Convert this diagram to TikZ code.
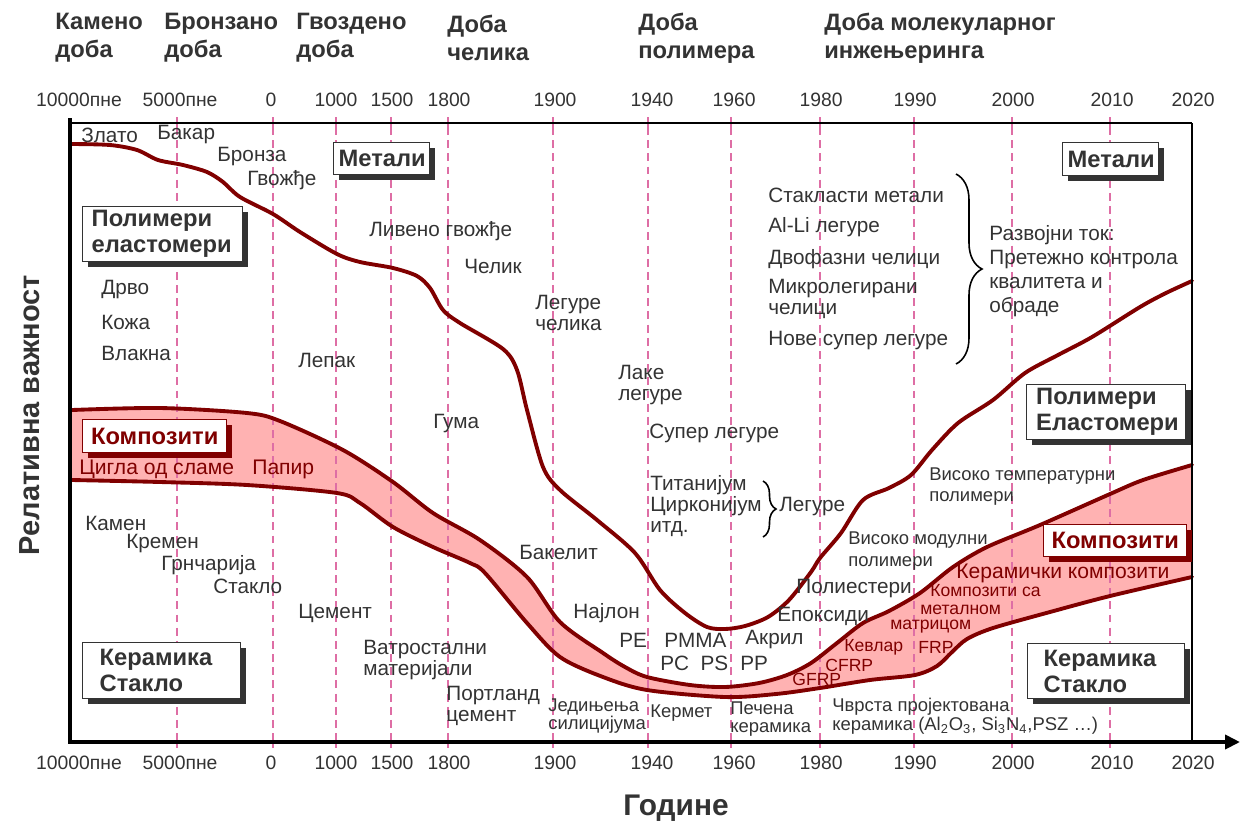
\documentclass[tikz,border=0pt]{standalone}
\usepackage{fontspec}
\setmainfont{Liberation Sans}
\usetikzlibrary{arrows.meta,shadows,decorations.pathreplacing}
\definecolor{mred}{RGB}{128,0,0}
\definecolor{mpink}{RGB}{255,178,178}
\definecolor{mgray}{RGB}{51,51,51}
\definecolor{mdash}{RGB}{222,110,165}

\begin{document}
\begin{tikzpicture}[x=0.02cm, y=-0.02cm,
  lbl/.style={anchor=west, inner sep=0pt, text=mgray, align=left, font=\fontsize{11.8}{12}\selectfont},
  lblsm/.style={lbl, font=\fontsize{10.5}{11}\selectfont},
  redlbl/.style={lbl, text=mred, font=\fontsize{12}{13}\selectfont},
  redsm/.style={lbl, text=mred, font=\fontsize{10}{11}\selectfont},
  era/.style={anchor=west, inner sep=0pt, text=mgray, align=left, font=\fontsize{13.5}{16}\selectfont\bfseries},
  year/.style={inner sep=0pt, text=mgray, font=\fontsize{11}{12}\selectfont},
  tag/.style={anchor=north west, line width=0.8pt, fill=white, inner ysep=0pt, font=\fontsize{13.5}{14.7}\selectfont\bfseries},
  graybox/.style={tag, draw=mgray, text=mgray, align=left, drop shadow={shadow xshift=0.1cm, shadow yshift=-0.1cm, fill=mgray, opacity=1}},
  redbox/.style={tag, draw=mred, text=mred, align=center, drop shadow={shadow xshift=0.1cm, shadow yshift=-0.1cm, fill=mred, opacity=1}},
  curve/.style={mred, line width=2.2pt, line join=round, line cap=round},
  gridline/.style={mdash, line width=1.1pt, dash pattern=on 4.5pt off 3pt},
  brc/.style={decorate, line width=0.9pt},
]
\useasboundingbox (0,0) rectangle (1240,822);

% composites band
\fill[mpink] plot[smooth] coordinates {(72,410) (160,408) (247,413) (280,421) (343,450) (393,482) (433,513) (480,540) (527,577) (560,622) (603,653) (625,667) (647,677) (690,685) (725,687) (759,683) (787,675) (811,663) (837,643) (863,623) (889,611) (920,593) (953,567) (987,547) (1040,525) (1110,494) (1143,480) (1192,465)}
  -- plot[smooth] coordinates {(1192,577) (1110,596) (1050,612) (993,628) (967,639) (952,652) (937,666) (915,675) (870,680) (820,688) (776,694) (725,697) (647,690) (603,677) (560,657) (527,623) (485,573) (470,563) (433,547) (393,527) (360,503) (337,493) (247,485) (160,482) (72,480)} -- cycle;

% year grid
\foreach \gx in {177,273,336,391,448,553,648,731,820,914,1012,1110} {
  \draw[gridline] (\gx,127) -- (\gx,737);
  \draw[mdash, line width=1.1pt] (\gx,117) -- (\gx,127);
  \draw[mdash, line width=1.1pt] (\gx,737) -- (\gx,748);
}

% curves
\draw[curve] plot[smooth] coordinates {(72,144) (110,145) (137,150) (158,160) (183,165) (207,172) (223,182) (240,197) (273,214) (300,232) (337,254) (360,262) (393,268) (417,276) (430,288) (443,310) (460,323) (503,349) (517,370) (527,410) (543,467) (560,490) (597,520) (635,553) (660,590) (685,613) (707,627) (725,629) (745,626) (768,617) (789,600) (811,572) (820,558) (841,533) (863,500) (889,488) (911,475) (932,450) (958,423) (993,400) (1025,373) (1058,355) (1092,337) (1140,307) (1166,293) (1192,281)};
\draw[curve] plot[smooth] coordinates {(72,410) (160,408) (247,413) (280,421) (343,450) (393,482) (433,513) (480,540) (527,577) (560,622) (603,653) (625,667) (647,677) (690,685) (725,687) (759,683) (787,675) (811,663) (837,643) (863,623) (889,611) (920,593) (953,567) (987,547) (1040,525) (1110,494) (1143,480) (1192,465)};
\draw[curve] plot[smooth] coordinates {(72,480) (160,482) (247,485) (337,493) (360,503) (393,527) (433,547) (470,563) (485,573) (527,623) (560,657) (603,677) (647,690) (725,697) (776,694) (820,688) (870,680) (915,675) (937,666) (952,652) (967,639) (993,628) (1050,612) (1110,596) (1192,577)};

% frame and axes
\draw[line width=1.7pt] (70,123) -- (1192,123);
\draw[line width=1.3pt] (1192,123) -- (1192,742);
\draw[line width=2.3pt] (70,118) -- (70,744);
\draw[line width=2.3pt, -{Triangle[length=0.3cm, width=0.28cm]}] (69,742) -- (1240,742);

% years
\foreach \yx/\yt [count=\i] in {79/10000пне, 180/5000пне, 271/0, 336/1000, 392/1500, 449/1800, 555/1900, 652/1940, 734/1960, 821/1980, 915/1990, 1013/2000, 1112/2010, 1193/2020} {
  \node[year] (yt\i) at (\yx,100) {\yt};
  \node[year] (yb\i) at (\yx,763) {\yt};
}

% ages
\node[era] (age1) at (55,38) {Камено\\доба};
\node[era] (age2) at (164,38) {Бронзано\\доба};
\node[era] (age3) at (296,38) {Гвоздено\\доба};
\node[era] (age4) at (447,38) {Доба\\челика};
\node[era] (age5) at (638,38) {Доба\\полимера};
\node[era] (age6) at (824,38) {Доба молекуларног\\инжењеринга};

% axis titles
\node[rotate=90, text=mgray, font=\fontsize{16.5}{18}\selectfont\bfseries] (ytitle) at (30,415) {Релативна важност};
\node[text=mgray, font=\fontsize{17}{19}\selectfont\bfseries] (xtitle) at (676,808) {Године};

% metals
\node[lbl] (zlato) at (81,135) {Злато};
\node[lbl] (bakar) at (157,135) {Бакар};
\node[lbl] (bronza) at (217,157) {Бронза};
\node[lbl] (gvozdje) at (247,180) {Гвожђе};
\node[lbl] (liveno) at (369,231) {Ливено гвожђе};
\node[lbl] (celik) at (464,266) {Челик};
\node[lbl] (legcel) at (535,313) {Легуре\\челика};
\node[lbl] (lake) at (618,385) {Лаке\\легуре};
\node[lbl] (super) at (649,433) {Супер легуре};
\node[lbl] (titan) at (650,506) {Титанијум\\Цирконијум\\итд.};
\node[lbl] (legure) at (779,507) {Легуре};
\node[lbl] (staklm) at (768,195) {Стакласти метали};
\node[lbl] (alli) at (768,227) {Al-Li легуре};
\node[lbl] (dvofaz) at (768,259) {Двофазни челици};
\node[lbl] (mikro) at (768,299) {Микролегирани\\челици};
\node[lbl] (nove) at (768,341) {Нове супер легуре};
\node[lbl, font=\fontsize{11.8}{13.6}\selectfont] (razvoj) at (989,271) {Развојни ток:\\Претежно контрола\\квалитета и\\обраде};

% polymers
\node[lbl] (drvo) at (101,290) {Дрво};
\node[lbl] (koza) at (101,322) {Кожа};
\node[lbl] (vlakna) at (101,353) {Влакна};
\node[lbl] (lepak) at (298,360) {Лепак};
\node[lbl] (guma) at (433,424) {Гума};
\node[lbl] (bakelit) at (519,552) {Бакелит};
\node[lbl] (najlon) at (573,613) {Најлон};
\node[lbl] (pe) at (619,640) {PE};
\node[lbl] (pmma) at (664,640) {PMMA};
\node[lbl] (pcps) at (660,663) {PC\ \ PS};
\node[lbl] (akril) at (745,640) {Акрил};
\node[lbl] (pp) at (740,663) {PP};
\node[lbl] (poliest) at (796,589) {Полиестери};
\node[lbl] (epoks) at (777,616) {Епоксиди};
\node[lblsm, font=\fontsize{10.5}{12.5}\selectfont] (vmod) at (848,551) {Високо модулни\\полимери};
\node[lblsm, font=\fontsize{10.5}{12}\selectfont] (vtemp) at (929,487) {Високо температурни\\полимери};

% ceramics
\node[lbl] (kamen) at (85,523) {Камен};
\node[lbl] (kremen) at (126,544) {Кремен};
\node[lbl] (grnc) at (161,565) {Грнчарија};
\node[lbl] (staklo) at (213,586) {Стакло};
\node[lbl] (cement) at (298,613) {Цемент};
\node[lbl] (vatro) at (363,660) {Ватростални\\материјали};
\node[lbl] (portl) at (446,706) {Портланд\\цемент};
\node[lblsm, font=\fontsize{10.5}{9.6}\selectfont] (jedin) at (548,716) {Једињења\\силицијума};
\node[lblsm] (kermet) at (650,713) {Кермет};
\node[lblsm, font=\fontsize{10.5}{10.2}\selectfont] (pecena) at (730,719) {Печена\\керамика};
\node[lblsm, font=\fontsize{10.5}{10.8}\selectfont] (cvrsta) at (832,716) {Чврста пројектована\\керамика (Al\textsubscript{2}O\textsubscript{3}, Si\textsubscript{3}N\textsubscript{4},PSZ …)};

% composites
\node[redlbl] (cigla) at (79,469) {Цигла од сламе};
\node[redlbl] (papir) at (252,469) {Папир};
\node[redlbl] (kerkomp) at (956,573) {Керамички композити};
\node[redsm] (kompsa) at (930,591) {Композити са};
\node[redsm] (metaln) at (920,610) {металном};
\node[redsm] (matric) at (890,627) {матрицом};
\node[redsm] (kevlar) at (844,647) {Кевлар};
\node[redsm] (frp) at (918,647) {FRP};
\node[redsm] (cfrp) at (825,665) {CFRP};
\node[redsm] (gfrp) at (792,679) {GFRP};

% boxes
\node[graybox, inner xsep=0.18cm, text width=2.84cm, minimum height=1.1cm] (polyl) at (82,206) {Полимери\\еластомери};
\node[graybox, align=center, inner xsep=0.1cm, text width=1.72cm, minimum height=0.64cm] (metm) at (333,142) {Метали};
\node[graybox, align=center, inner xsep=0.1cm, text width=1.72cm, minimum height=0.66cm] (metr) at (1062,142) {Метали};
\node[graybox, inner xsep=0.19cm, text width=2.8cm, minimum height=1.1cm] (polyr) at (1026,384) {Полимери\\Еластомери};
\node[redbox, inner xsep=0.1cm, text width=2.66cm, minimum height=0.64cm] (kompr) at (1043,524) {Композити};
\node[redbox, inner xsep=0.1cm, text width=2.68cm, minimum height=0.66cm] (kompl) at (82,419) {Композити};
\node[graybox, inner xsep=0.32cm, text width=2.5cm, minimum height=1.1cm] (kerr) at (1027,643) {Керамика\\Стакло};
\node[graybox, inner xsep=0.34cm, text width=2.48cm, minimum height=1.12cm] (kerl) at (82,642) {Керамика\\Стакло};

% braces
\coordinate (bigtop) at (956,174);
\coordinate (bigbot) at (956,364);
\coordinate (smtop) at (763,481);
\coordinate (smbot) at (763,537);
\draw[brc, decoration={brace, amplitude=0.52cm}] (bigtop) -- (bigbot);
\draw[brc, decoration={brace, amplitude=0.26cm}] (smtop) -- (smbot);
\end{tikzpicture}
\end{document}
